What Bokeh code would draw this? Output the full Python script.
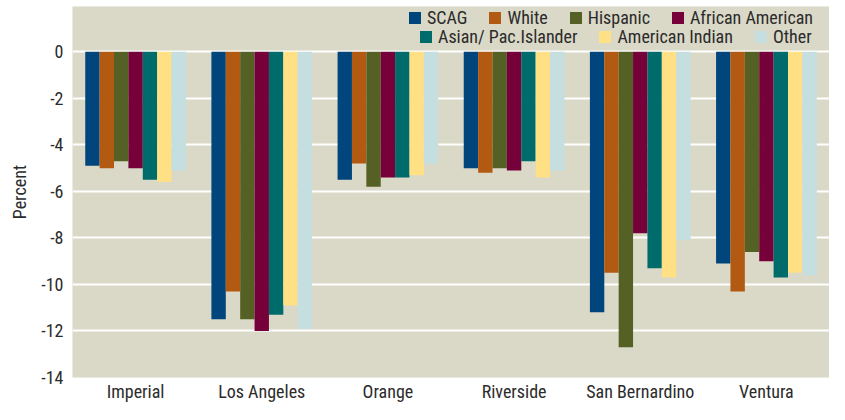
from bokeh.plotting import figure
from bokeh.models import (ColumnDataSource, FactorRange, Legend, LegendItem, Range1d, FixedTicker,
                          CustomJSTickFormatter)
from bokeh.transform import dodge
from bokeh.embed import file_html
from bokeh.resources import INLINE

counties = ["Imperial", "Los Angeles", "Orange", "Riverside", "San Bernardino", "Ventura"]
groups = ["SCAG", "White", "Hispanic", "African American", "Asian/ Pac.Islander", "American Indian", "Other"]
scag = [-4.9, -11.5, -5.5, -5.0, -11.2, -9.1]
white = [-5.0, -10.3, -4.8, -5.2, -9.5, -10.3]
hispanic = [-4.7, -11.5, -5.8, -5.0, -12.7, -8.6]
african_american = [-5.0, -12.0, -5.4, -5.1, -7.8, -9.0]
asian_pac = [-5.5, -11.3, -5.4, -4.7, -9.3, -9.7]
american_indian = [-5.6, -10.9, -5.3, -5.4, -9.7, -9.5]
other = [-5.1, -11.9, -4.8, -5.1, -8.1, -9.6]
y_ticks = [0, -2, -4, -6, -8, -10, -12, -14]

series = [scag, white, hispanic, african_american, asian_pac, american_indian, other]
colors = ["#00457C", "#B35A12", "#556124", "#75003A", "#006B6B", "#FFE085", "#C5DEE0"]
keys = ["g%d" % i for i in range(7)]

data = {"county": counties}
for k, s in zip(keys, series):
    data[k] = s
source = ColumnDataSource(data)

FONT = "'Roboto Condensed', 'PT Sans Narrow', 'Liberation Sans', sans-serif"
TXT = "#2b2b2b"

p = figure(x_range=FactorRange(factors=counties, range_padding=0),
           y_range=Range1d(-14, 1.95),
           width=829, height=404, output_backend="svg", toolbar_location=None,
           min_border_left=72, min_border_right=0, min_border_top=6, min_border_bottom=24)
p.background_fill_color = "#DAD8C7"
p.border_fill_color = "white"
p.outline_line_color = None

bw = 0.114
renderers = []
for i, (k, c) in enumerate(zip(keys, colors)):
    r = p.vbar(x=dodge("county", (i - 3) * bw, range=p.x_range), top=k, bottom=0,
               width=bw, source=source, fill_color=c, line_color=None)
    renderers.append(r)

p.xgrid.grid_line_color = None
p.ygrid.grid_line_color = "white"
p.ygrid.grid_line_width = 2
p.yaxis.ticker = FixedTicker(ticks=y_ticks)
p.yaxis.formatter = CustomJSTickFormatter(code="return String(tick);")

for ax in (p.xaxis[0], p.yaxis[0]):
    ax.axis_line_color = None
    ax.major_tick_line_color = None
    ax.minor_tick_line_color = None
    ax.major_tick_out = 0
    ax.major_tick_in = 0
    ax.minor_tick_out = 0
    ax.major_label_text_font = FONT
    ax.major_label_text_font_size = "18px"
    ax.major_label_text_color = TXT

p.xaxis.major_label_standoff = 3
p.yaxis.major_label_standoff = 9
p.yaxis.axis_label = "Percent"
p.yaxis.axis_label_text_font = FONT
p.yaxis.axis_label_text_font_size = "18px"
p.yaxis.axis_label_text_font_style = "normal"
p.yaxis.axis_label_text_color = TXT
p.yaxis.axis_label_standoff = 8


def make_legend(idx, loc):
    leg = Legend(items=[LegendItem(label=groups[i], renderers=[renderers[i]]) for i in idx],
                 location=loc, orientation="horizontal",
                 glyph_width=15, glyph_height=15, label_standoff=5, spacing=20,
                 padding=0, margin=0, border_line_color=None, background_fill_alpha=0,
                 label_text_font=FONT, label_text_font_size="18px", label_text_color=TXT,
                 label_height=15)
    p.add_layout(leg)
    return leg

make_legend([0, 1, 2, 3], (335, 349))
make_legend([4, 5, 6], (346, 330))

open("out.html", "w").write(file_html(p, INLINE))
